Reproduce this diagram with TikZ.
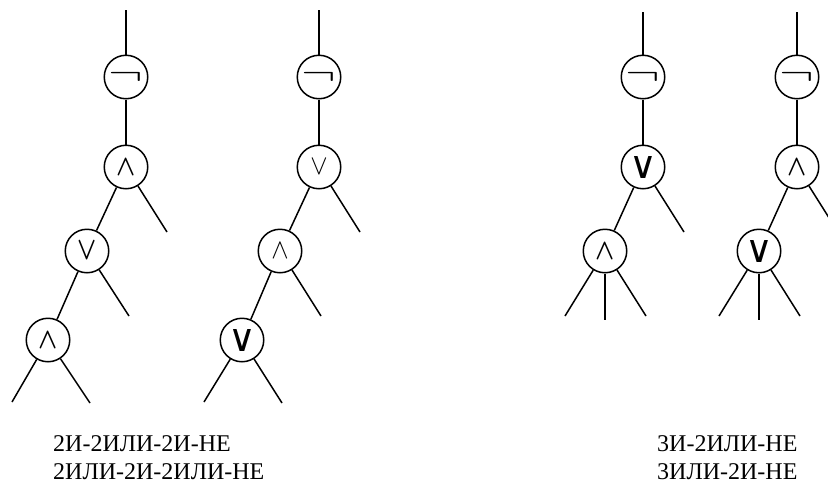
\documentclass[tikz,border=0pt]{standalone}
\usepackage{fontspec}
\usepackage{bm}
\setmainfont{Liberation Serif}
\newfontfamily\symfont{DejaVu Sans}
\newcommand\negsym{\raisebox{-2pt}{\scalebox{5.2}[3.4]{$\neg$}}}
\newcommand\andthin{\scalebox{2.6}[2.8]{$\wedge$}}
\newcommand\orthin{\scalebox{2.6}[2.8]{$\vee$}}
\newcommand\andmed{\scalebox{2.5}[2.9]{$\bm\wedge$}}
\newcommand\ormed{\scalebox{2.5}[3.2]{$\bm\vee$}}
\newcommand\orbold{{\symfont\fontsize{38}{38}\selectfont ∨}}
\begin{document}
\begin{tikzpicture}[x=1pt,y=-1pt,
  gate/.style={circle,draw,line width=1.5pt,minimum size=43.5pt,inner sep=0pt},
  wire/.style={line width=1.5pt},
  lbl/.style={font=\fontsize{24}{29}\selectfont,anchor=base west,inner sep=0pt}]
\useasboundingbox (0,0) rectangle (828,483);
\clip (0,0) rectangle (828,483);
% tree 1
\coordinate (t1) at (126,10);
\node[gate] (n1) at (126,77) {\negsym};
\node[gate] (a1) at (126,167) {\andmed};
\node[gate] (o1) at (87,251) {\ormed};
\node[gate] (b1) at (48,340) {\andmed};
\coordinate (r1a) at (167,232);
\coordinate (r1b) at (129,316);
\coordinate (l1c) at (12,402);
\coordinate (r1c) at (90,403);
\draw[wire] (t1) -- (n1);
\draw[wire] (n1) -- (a1);
\draw[wire] (a1) -- (o1);
\draw[wire] (a1) -- (r1a);
\draw[wire] (o1) -- (b1);
\draw[wire] (o1) -- (r1b);
\draw[wire] (b1) -- (l1c);
\draw[wire] (b1) -- (r1c);
% tree 2
\coordinate (t2) at (319,10);
\node[gate] (n2) at (319,77) {\negsym};
\node[gate] (o2) at (319,167) {\orthin};
\node[gate] (a2) at (280,251) {\andthin};
\node[gate] (b2) at (242,340) {\orbold};
\coordinate (r2a) at (360,232);
\coordinate (r2b) at (321,316);
\coordinate (l2c) at (204,402);
\coordinate (r2c) at (282,403);
\draw[wire] (t2) -- (n2);
\draw[wire] (n2) -- (o2);
\draw[wire] (o2) -- (a2);
\draw[wire] (o2) -- (r2a);
\draw[wire] (a2) -- (b2);
\draw[wire] (a2) -- (r2b);
\draw[wire] (b2) -- (l2c);
\draw[wire] (b2) -- (r2c);
% tree 3
\coordinate (t3) at (643,12);
\node[gate] (n3) at (643,77) {\negsym};
\node[gate] (o3) at (643,167) {\orbold};
\node[gate] (a3) at (605,251) {\andmed};
\coordinate (r3a) at (684,232);
\coordinate (l3b) at (565,316);
\coordinate (m3b) at (605,320);
\coordinate (r3b) at (646,316);
\draw[wire] (t3) -- (n3);
\draw[wire] (n3) -- (o3);
\draw[wire] (o3) -- (a3);
\draw[wire] (o3) -- (r3a);
\draw[wire] (a3) -- (l3b);
\draw[wire] (a3) -- (m3b);
\draw[wire] (a3) -- (r3b);
% tree 4
\coordinate (t4) at (797,12);
\node[gate] (n4) at (797,77) {\negsym};
\node[gate] (a4) at (797,167) {\andmed};
\node[gate] (o4) at (759,251) {\orbold};
\coordinate (r4a) at (838,232);
\coordinate (l4b) at (719,316);
\coordinate (m4b) at (759,320);
\coordinate (r4b) at (800,316);
\draw[wire] (t4) -- (n4);
\draw[wire] (n4) -- (a4);
\draw[wire] (a4) -- (o4);
\draw[wire] (a4) -- (r4a);
\draw[wire] (o4) -- (l4b);
\draw[wire] (o4) -- (m4b);
\draw[wire] (o4) -- (r4b);
% labels
\node[lbl] (L1) at (53,451) {2И-2ИЛИ-2И-НЕ};
\node[lbl] (L2) at (53,479) {2ИЛИ-2И-2ИЛИ-НЕ};
\node[lbl] (L3) at (657,451) {3И-2ИЛИ-НЕ};
\node[lbl] (L4) at (657,479) {3ИЛИ-2И-НЕ};
\end{tikzpicture}
\end{document}
